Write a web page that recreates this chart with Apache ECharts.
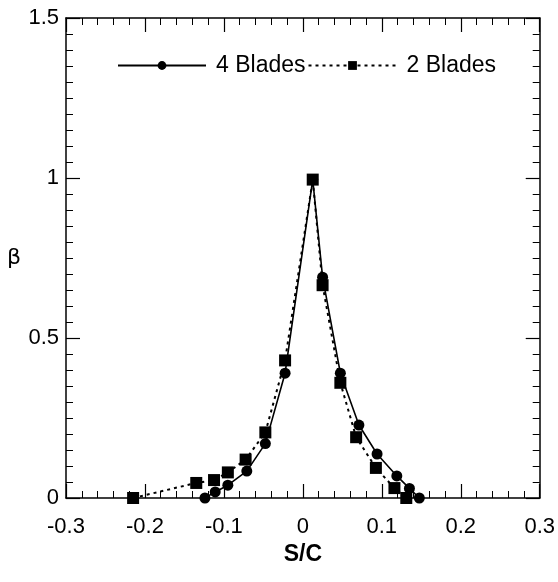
<!DOCTYPE html>
<html>
<head>
<meta charset="utf-8">
<script src="https://cdn.jsdelivr.net/npm/echarts@6/dist/echarts.min.js"></script>
<style>
html,body{margin:0;padding:0;background:#fff;}
#chart{width:558px;height:582px;}
</style>
</head>
<body>
<div id="chart"></div>
<script>
var blades4X = [-0.124, -0.111, -0.095, -0.071, -0.0475, -0.0225, 0.0125, 0.025, 0.0475, 0.071, 0.094, 0.119, 0.135, 0.1475];
var blades4Y = [0, 0.019, 0.04, 0.084, 0.17, 0.39, 0.995, 0.69, 0.39, 0.228, 0.1375, 0.069, 0.03, 0];
var blades2X = [-0.215, -0.135, -0.1125, -0.095, -0.0725, -0.0475, -0.0225, 0.0125, 0.025, 0.0475, 0.0675, 0.0925, 0.116, 0.131];
var blades2Y = [0, 0.047, 0.056, 0.08, 0.12, 0.205, 0.43, 0.995, 0.665, 0.36, 0.19, 0.094, 0.031, 0];
var seriesNames = ['4 Blades', '2 Blades'];
var xName = 'S/C';
var yName = 'β';

function pairs(xs, ys){ return xs.map(function(x,i){ return [x, ys[i]]; }); }
function fmt(v){ var r = parseFloat(v.toFixed(2)); return String(r); }

var font = 'Liberation Sans, Arial, sans-serif';
var axisCommon = {
  axisLine:{show:true, onZero:false, lineStyle:{color:'#000', width:1.5}},
  axisTick:{show:true, inside:true, length:14, lineStyle:{color:'#000', width:1.2}},
  splitLine:{show:false}
};
function ax(extra){ var o = JSON.parse(JSON.stringify(axisCommon)); for (var k in extra) o[k]=extra[k]; return o; }

var chart = echarts.init(document.getElementById('chart'), null, {renderer:'canvas'});
chart.setOption({
  backgroundColor:'#fff',
  animation:false,
  grid:{left:66, top:18, right:12, bottom:84},
  legend:{
    left:112, top:49, itemWidth:88, itemHeight:11, itemGap:2,
    textStyle:{fontFamily:font, fontSize:23, color:'#000', padding:[0,0,0,5]},
    data:seriesNames
  },
  xAxis:[
    ax({type:'value', position:'bottom', min:-0.3, max:0.3, interval:0.1, minorTick:{show:true, splitNumber:5, length:7, lineStyle:{color:'#000', width:1}},
      axisLabel:{margin:18, fontFamily:font, fontSize:22, color:'#000', formatter:fmt},
      name:xName, nameLocation:'middle', nameGap:40, nameTextStyle:{fontFamily:font, fontSize:23, fontWeight:'bold', color:'#000'}}),
    ax({type:'value', position:'top', min:-0.3, max:0.3, interval:0.1, minorTick:{show:true, splitNumber:5, length:7, lineStyle:{color:'#000', width:1}},
      axisLabel:{show:false}})
  ],
  yAxis:[
    ax({type:'value', position:'left', min:0, max:1.5, interval:0.5, minorTick:{show:true, splitNumber:10, length:7, lineStyle:{color:'#000', width:1}},
      axisLabel:{margin:7, fontFamily:font, fontSize:22, color:'#000', formatter:fmt},
      name:yName, nameLocation:'middle', nameRotate:0, nameGap:45, nameTextStyle:{fontFamily:'DejaVu Sans, sans-serif', fontSize:22, color:'#000', padding:[26,0,0,0]}}),
    ax({type:'value', position:'right', min:0, max:1.5, interval:0.5, minorTick:{show:true, splitNumber:10, length:7, lineStyle:{color:'#000', width:1}},
      axisLabel:{show:false}})
  ],
  series:[
    {name:seriesNames[0], type:'line', xAxisIndex:0, yAxisIndex:0, data:pairs(blades4X, blades4Y),
     symbol:'circle', symbolSize:11, showAllSymbol:true,
     lineStyle:{color:'#000', width:1.6, type:'solid'}, itemStyle:{color:'#000'}},
    {name:seriesNames[1], type:'line', xAxisIndex:0, yAxisIndex:0, data:pairs(blades2X, blades2Y),
     symbol:'rect', symbolSize:12, showAllSymbol:true,
     lineStyle:{color:'#000', width:2, type:[3,4]}, itemStyle:{color:'#000'}}
  ]
});
</script>
</body>
</html>
